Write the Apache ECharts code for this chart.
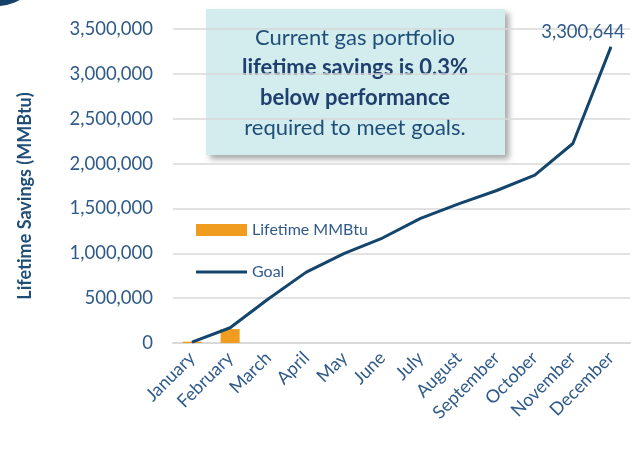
<!DOCTYPE html>
<html>
<head>
<meta charset="utf-8">
<script src="https://cdn.jsdelivr.net/npm/echarts@6/dist/echarts.min.js"></script>
<style>
  html, body { margin: 0; padding: 0; background: #fff; }
  #chart { width: 644px; height: 454px; }
</style>
</head>
<body>
<div id="chart"></div>
<script>
var months = ['January', 'February', 'March', 'April', 'May', 'June', 'July',
  'August', 'September', 'October', 'November', 'December'];
var lifetimeMMBtu = [15000, 155000, null, null, null, null, null, null, null, null, null, null];
var goal = [10000, 170000, 490000, 790000, 1000000, 1170000, 1390000, 1550000, 1700000, 1871000, 2224000, 3300644];
var yTicks = [0, 500000, 1000000, 1500000, 2000000, 2500000, 3000000, 3500000];

var txt = '#2f5b8a';
var font = 'Lato, "Open Sans", sans-serif';

var myChart = echarts.init(document.getElementById('chart'));
var option = {
  animation: false,
  textStyle: { fontFamily: font },
  grid: { left: 173, right: 14, top: 29, bottom: 111 },
  legend: {
    orient: 'vertical',
    left: 191,
    top: 217,
    itemWidth: 51,
    itemHeight: 12,
    itemGap: 26,
    symbolKeepAspect: true,
    textStyle: { color: txt, fontSize: 16, fontFamily: font },
    data: [
      { name: 'Lifetime MMBtu', icon: 'rect' },
      { name: 'Goal', icon: 'path://M0,0 L100,0 L100,6 L0,6 Z' }
    ]
  },
  xAxis: {
    type: 'category',
    data: months,
    axisLine: { lineStyle: { color: '#d9d9d9', width: 2 } },
    axisTick: { show: false },
    axisLabel: { rotate: 45, color: txt, fontSize: 18, interval: 0, margin: 12 }
  },
  yAxis: {
    type: 'value',
    min: yTicks[0],
    max: yTicks[yTicks.length - 1],
    interval: 500000,
    axisLine: { show: false },
    axisTick: { show: false },
    splitLine: { lineStyle: { color: '#d9d9d9', width: 1.5 } },
    axisLabel: {
      color: txt, fontSize: 18.5, margin: 20,
      formatter: function (v) { return v.toLocaleString('en-US'); }
    }
  },
  series: [
    {
      name: 'Lifetime MMBtu',
      type: 'bar',
      data: lifetimeMMBtu,
      barWidth: '50%',
      itemStyle: { color: '#f09c1e' }
    },
    {
      name: 'Goal',
      type: 'line',
      data: goal.map(function (v, i) {
        if (i === goal.length - 1) {
          return {
            value: v,
            label: {
              show: true, position: 'top', offset: [-28, 0], distance: 5,
              color: txt, fontSize: 18.5,
              formatter: function (p) { return p.value.toLocaleString('en-US'); }
            }
          };
        }
        return v;
      }),
      symbol: 'circle',
      symbolSize: 1,
      lineStyle: { color: '#13456d', width: 3 },
      itemStyle: { color: '#13456d' }
    }
  ],
  graphic: [
    {
      type: 'circle',
      shape: { cx: -3, cy: -40, r: 46 },
      style: { fill: '#14406a' }
    },
    {
      // y axis title
      type: 'text',
      x: 25,
      y: 196,
      rotation: Math.PI / 2,
      style: {
        text: 'Lifetime Savings (MMBtu)',
        align: 'center',
        verticalAlign: 'middle',
        fill: '#1f4e79',
        fontSize: 18,
        fontWeight: 'bold',
        fontFamily: font
      }
    },
    {
      type: 'rect',
      shape: { x: 206, y: 9, width: 299, height: 146 },
      style: {
        fill: '#d3eced',
        shadowBlur: 6,
        shadowOffsetX: 4,
        shadowOffsetY: 4,
        shadowColor: 'rgba(0,0,0,0.35)'
      }
    },
    {
      type: 'text',
      x: 355,
      y: 83,
      style: {
        text: '{n|Current gas portfolio}\n{b|lifetime savings is 0.3%}\n{b|below performance}\n{n|required to meet goals.}',
        align: 'center',
        verticalAlign: 'middle',
        rich: {
          n: { fontSize: 22, fontFamily: font, fill: '#1f4e79', lineHeight: 30, align: 'center' },
          b: { fontSize: 22, fontFamily: font, fontWeight: 'bold', fill: '#1f3f6e', lineHeight: 30, align: 'center' }
        }
      }
    }
  ]
};
myChart.setOption(option);
</script>
</body>
</html>
